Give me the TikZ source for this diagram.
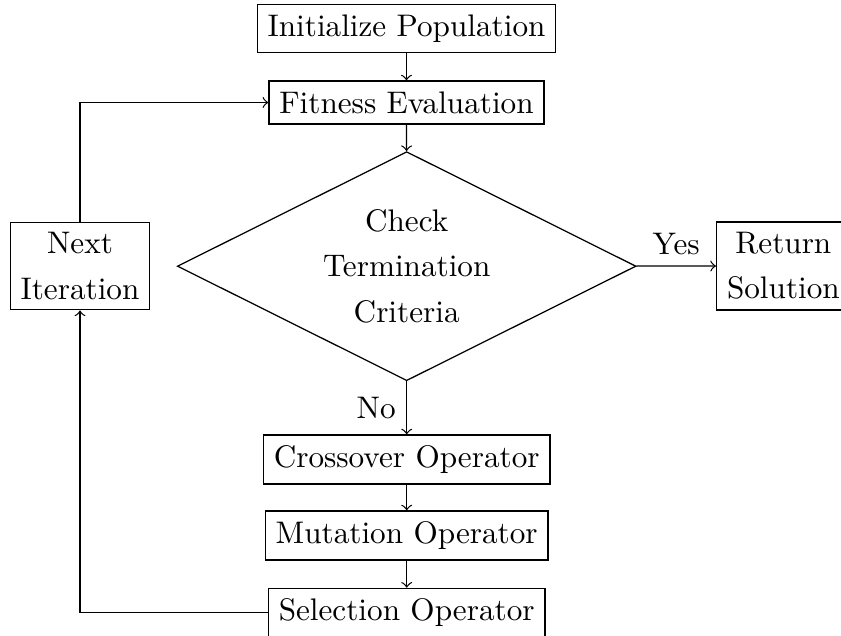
\documentclass[tikz,border=0pt]{standalone}
\usetikzlibrary{shapes.geometric}
\begin{document}
\begin{tikzpicture}[x=0.3205pt,y=-0.3205pt,
  every node/.style={font=\fontsize{10pt}{14.5pt}\selectfont},
  box/.style={draw,rectangle,align=center,inner sep=3.333pt},
  decision/.style={draw,diamond,aspect=2,align=center,inner sep=1pt,minimum width=147pt,minimum height=73.4pt},
  arr/.style={->}]
\useasboundingbox (0,0) rectangle (841,636);
\node[box] (init) at (406.5,28.5) {Initialize Population};
\node[box] (fit) at (406.5,102.5) {Fitness Evaluation};
\node[decision] (chk) at (406.7,266.2) {Check\\Termination\\Criteria};
\node[box,anchor=west] (ret) at (716,266) {Return\\Solution};
\node[box] (next) at (80,266) {Next\\Iteration};
\node[box] (cross) at (406.7,459.5) {Crossover Operator};
\node[box] (mut) at (406.7,535.5) {Mutation Operator};
\node[box] (sel) at (406.7,612.8) {Selection Operator};
\draw[arr] (init) -- (fit);
\draw[arr] (fit) -- (chk);
\draw[arr] (chk) -- node[midway,above] {Yes} (ret);
\draw[arr] (chk) -- node[midway,left] {No} (cross);
\draw[arr] (cross) -- (mut);
\draw[arr] (mut) -- (sel);
\draw[arr] (sel.west) -| (next.south);
\draw[arr] (next.north) |- (fit.west);
\end{tikzpicture}
\end{document}
